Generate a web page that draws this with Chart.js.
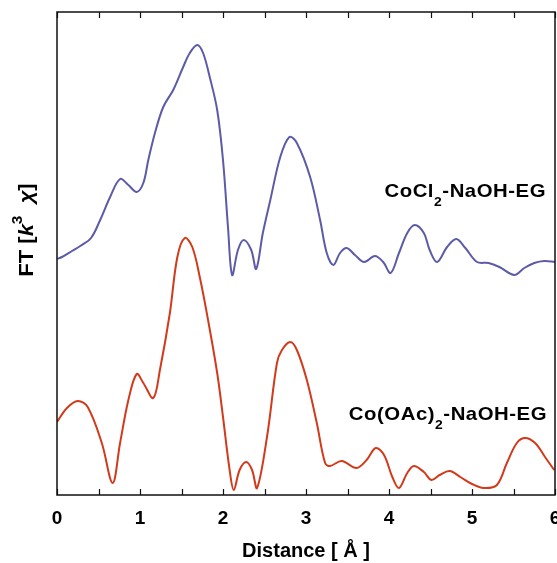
<!DOCTYPE html>
<html>
<head>
<meta charset="utf-8">
<script src="https://cdn.jsdelivr.net/npm/chart.js@4"></script>
<style>
  html, body { margin: 0; padding: 0; background: #fff; }
  #wrap { width: 557px; height: 563px; }
</style>
</head>
<body>
<div id="wrap"><canvas id="ftChart" width="557" height="563"></canvas></div>
<script>
// distance in angstrom and FT magnitude (arbitrary units, offset curves)
const cocl2X = [0, 0.06, 0.18, 0.28, 0.41, 0.52, 0.64, 0.76, 0.86, 0.96, 1.04, 1.10, 1.18, 1.28, 1.40, 1.52, 1.60, 1.69, 1.76, 1.84, 1.93, 2.00, 2.06, 2.11, 2.18, 2.25, 2.34, 2.40, 2.48, 2.57, 2.69, 2.80, 2.89, 3.05, 3.17, 3.25, 3.33, 3.41, 3.49, 3.59, 3.70, 3.83, 3.93, 4.02, 4.12, 4.22, 4.31, 4.42, 4.49, 4.58, 4.70, 4.81, 4.92, 5.06, 5.20, 5.33, 5.51, 5.63, 5.75, 5.87, 6.00];
const cocl2Y = [236, 238, 244, 249, 257, 275, 298, 316, 310, 303, 312, 335, 362, 388, 405, 428, 442, 450, 442, 418, 385, 335, 268, 220, 245, 255, 245, 226, 262, 295, 338, 358, 352, 318, 275, 242, 230, 242, 247, 240, 233, 239, 233, 222, 242, 262, 270, 262, 245, 233, 248, 256, 247, 233, 232, 228, 220, 227, 232, 234, 233];

const coacX = [0, 0.12, 0.25, 0.37, 0.54, 0.67, 0.76, 0.86, 0.96, 1.04, 1.16, 1.24, 1.36, 1.45, 1.54, 1.63, 1.72, 1.82, 1.93, 2.00, 2.08, 2.13, 2.20, 2.28, 2.35, 2.41, 2.53, 2.65, 2.71, 2.81, 2.89, 3.01, 3.13, 3.23, 3.29, 3.43, 3.61, 3.73, 3.84, 3.94, 4.04, 4.12, 4.22, 4.30, 4.42, 4.51, 4.61, 4.73, 4.86, 5.00, 5.14, 5.30, 5.42, 5.54, 5.64, 5.76, 5.88, 5.99];
const coacY = [73, 87, 94, 88, 52, 12, 52, 95, 121, 112, 97, 125, 182, 238, 257, 248, 218, 175, 122, 78, 25, 5, 25, 33, 25, 7, 58, 132, 145, 153, 145, 115, 72, 32, 29, 34, 27, 35, 47, 40, 18, 7, 22, 29, 23, 15, 20, 24, 18, 11, 7, 10, 32, 52, 57, 52, 38, 25];

const xTicks = [0, 1, 2, 3, 4, 5, 6];
const minorTicks = [0.5, 1.5, 2.5, 3.5, 4.5, 5.5];

function toPoints(xs, ys) {
  return xs.map((x, i) => ({ x: x, y: ys[i] }));
}

const FONT = 'Arial, "Liberation Sans", sans-serif';

// frame, inward ticks, y label and curve labels
const decorPlugin = {
  id: 'decor',
  afterDraw(chart) {
    const ctx = chart.ctx;
    const a = chart.chartArea;
    const xs = chart.scales.x;
    ctx.save();
    ctx.strokeStyle = '#111';
    ctx.lineWidth = 1.5;
    ctx.strokeRect(a.left, a.top, a.right - a.left, a.bottom - a.top);
    ctx.lineWidth = 1.2;
    xTicks.concat(minorTicks).forEach(v => {
      const px = Math.round(xs.getPixelForValue(v)) + 0.5;
      ctx.beginPath();
      ctx.moveTo(px, a.bottom); ctx.lineTo(px, a.bottom - 6);
      ctx.moveTo(px, a.top); ctx.lineTo(px, a.top + 6);
      ctx.stroke();
    });

    // y axis title: FT [k^3 chi]
    ctx.translate(27, 230);
    ctx.rotate(-Math.PI / 2);
    ctx.scale(1.1, 1);
    ctx.fillStyle = '#000';
    ctx.textBaseline = 'middle';
    const parts = [
      { t: 'FT [', f: 'bold 20px ' + FONT, dy: 0 },
      { t: 'k', f: 'italic bold 20px ' + FONT, dy: 0 },
      { t: '3', f: 'bold 14px ' + FONT, dy: -9 },
      { t: '  ', f: 'bold 20px ' + FONT, dy: 0 },
      { t: 'χ', f: 'italic bold 20px ' + FONT, dy: 0 },
      { t: ']', f: 'bold 20px ' + FONT, dy: 0 }
    ];
    let w = 0;
    parts.forEach(p => { ctx.font = p.f; w += ctx.measureText(p.t).width; });
    let cx = -w / 2;
    parts.forEach(p => {
      ctx.font = p.f;
      ctx.fillText(p.t, cx, p.dy);
      cx += ctx.measureText(p.t).width;
    });
    ctx.restore();

    // curve labels with subscript 2
    function label(pre, post, right, y) {
      ctx.save();
      ctx.fillStyle = '#000';
      ctx.textBaseline = 'middle';
      ctx.letterSpacing = '0.5px';
      const big = 'bold 19px ' + FONT, small = 'bold 13px ' + FONT;
      ctx.font = big; const w1 = ctx.measureText(pre).width; const w3 = ctx.measureText(post).width;
      ctx.font = small; const w2 = ctx.measureText('2').width;
      const sx = 1.07;
      ctx.translate(right - (w1 + w2 + w3) * sx, y);
      ctx.scale(sx, 1);
      let x = 0;
      ctx.font = big; ctx.fillText(pre, x, 0); x += w1;
      ctx.font = small; ctx.fillText('2', x, 10); x += w2;
      ctx.font = big; ctx.fillText(post, x, 0);
      ctx.restore();
    }
    label('CoCl', '-NaOH-EG', 546, 192);
    label('Co(OAc)', '-NaOH-EG', 547, 415);
  }
};

new Chart(document.getElementById('ftChart'), {
  type: 'line',
  data: {
    datasets: [
      {
        label: 'CoCl2-NaOH-EG',
        data: toPoints(cocl2X, cocl2Y),
        borderColor: '#5b5ba8',
        borderWidth: 2,
        pointRadius: 0,
        tension: 0.35,
        fill: false
      },
      {
        label: 'Co(OAc)2-NaOH-EG',
        data: toPoints(coacX, coacY),
        borderColor: '#d23a1c',
        borderWidth: 2,
        pointRadius: 0,
        tension: 0.35,
        fill: false
      }
    ]
  },
  options: {
    responsive: false,
    animation: false,
    layout: { padding: { top: 12, right: 2, left: 0, bottom: 0 } },
    plugins: {
      legend: { display: false },
      tooltip: { enabled: false }
    },
    scales: {
      x: {
        type: 'linear',
        min: 0,
        max: 6,
        grid: { display: false, drawTicks: false },
        border: { display: false },
        ticks: {
          stepSize: 1,
          padding: 12,
          color: '#000',
          font: { family: FONT, size: 19, weight: 'bold' }
        },
        title: {
          display: true,
          text: 'Distance [ Å ]',
          color: '#000',
          padding: { top: 0, bottom: 0 },
          font: { family: FONT, size: 20, weight: 'bold' }
        },
        afterFit(scale) {
          scale.height = 68;
          scale.paddingLeft = 0;
          scale.paddingRight = 0;
        }
      },
      y: {
        min: 0,
        max: 483,
        grid: { display: false, drawTicks: false },
        border: { display: false },
        ticks: { display: false },
        afterFit(scale) { scale.width = 57; }
      }
    }
  },
  plugins: [decorPlugin]
});
</script>
</body>
</html>
